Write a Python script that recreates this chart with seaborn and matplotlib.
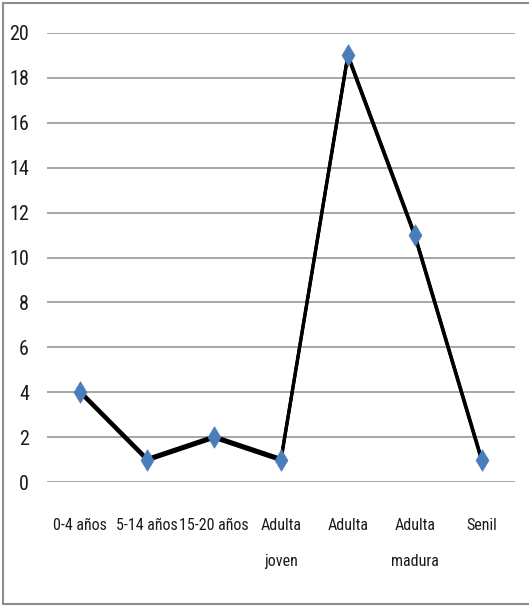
import matplotlib
matplotlib.use("Agg")
import matplotlib.pyplot as plt
import matplotlib.patheffects as pe
from matplotlib.lines import Line2D
from matplotlib import font_manager
import seaborn as sns
import pandas as pd

categories = ["0-4 años", "5-14 años", "15-20 años", "Adulta\njoven",
              "Adulta", "Adulta\nmadura", "Senil"]
values = [4, 1, 2, 1, 19, 11, 1]
y_ticks = [0, 2, 4, 6, 8, 10, 12, 14, 16, 18, 20]

sns.set_theme(style="white")


def narrow_font():
    """Pick the narrowest sans face that is installed."""
    entries = font_manager.fontManager.ttflist
    for name in ["Roboto Condensed", "Liberation Sans Narrow", "Open Sans Condensed",
                 "Noto Sans Condensed"]:
        for f in entries:
            if f.name == name and f.weight in (400, "normal", "regular") and f.style == "normal":
                return font_manager.FontProperties(fname=f.fname)
    for f in entries:
        if f.name == "DejaVu Sans" and "Condensed" in f.fname and f.style == "normal" \
                and "Bold" not in f.fname and "Oblique" not in f.fname:
            return font_manager.FontProperties(fname=f.fname)
    return font_manager.FontProperties(family="DejaVu Sans")


fp = narrow_font()
plt.rcParams["font.family"] = ["DejaVu Sans"]

df = pd.DataFrame({"grupo": categories, "n": values})

fig = plt.figure(figsize=(5.29, 6.07), dpi=100)
ax = fig.add_axes([47 / 529, 1 - 482 / 607, (515 - 47) / 529, (482 - 33) / 607])

# connecting line, stroke a little taller than wide
sns.lineplot(data=df, x="grupo", y="n", sort=False, ax=ax, color="black",
             linewidth=2.2, zorder=3,
             path_effects=[pe.Stroke(offset=(0, 0.8), linewidth=2.2, foreground="black"),
                           pe.Stroke(offset=(0, -0.8), linewidth=2.2, foreground="black"),
                           pe.Normal()])
sns.scatterplot(data=df, x="grupo", y="n", ax=ax, marker="d", s=120,
                color="#4a7ebb", edgecolor="#4a7ebb", linewidth=0.5, zorder=4)

ax.set_xlim(-0.5, len(categories) - 0.5)
ax.set_ylim(0, 20)
ax.set_yticks(y_ticks)
ax.set_yticklabels([str(t) for t in y_ticks], fontproperties=fp, fontsize=14.5,
                   color="#1a1a1a")
ax.set_xticks(range(len(categories)))
ax.set_xticklabels(categories, fontproperties=fp, fontsize=11.5, color="#1a1a1a",
                   linespacing=2.7)
ax.set_xlabel("")
ax.set_ylabel("")
for s in ax.spines.values():
    s.set_visible(False)
ax.grid(axis="y", color="#a6a6a6", linewidth=1.4)
ax.set_axisbelow(True)
ax.tick_params(axis="y", length=0, pad=13)
ax.tick_params(axis="x", length=0, pad=26)

# outer frame: left, top and bottom edges
W, H = 529, 607
frame = dict(transform=fig.transFigure, color="#8c8c8c", linewidth=1.5)
fig.add_artist(Line2D([3 / W, 3 / W], [3 / H, 1 - 3 / H], **frame))
fig.add_artist(Line2D([3 / W, 1.0], [1 - 3 / H, 1 - 3 / H], **frame))
fig.add_artist(Line2D([3 / W, 1.0], [3 / H, 3 / H], **frame))

fig.savefig("out.png", dpi=100)
